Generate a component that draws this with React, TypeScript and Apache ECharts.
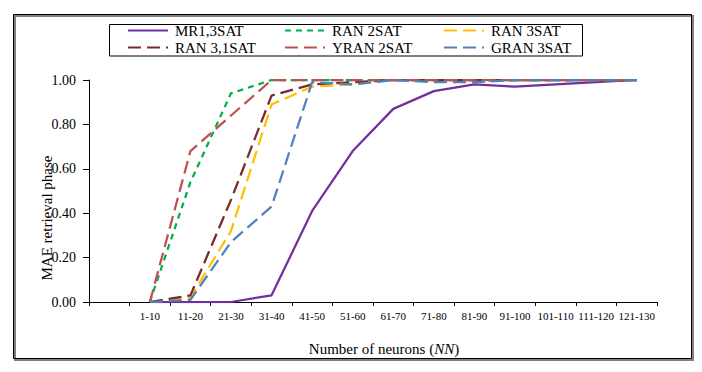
import React, { useEffect, useRef } from "react";
import * as echarts from "echarts";

const categories = ["", "1-10", "11-20", "21-30", "31-40", "41-50", "51-60", "61-70", "71-80", "81-90", "91-100", "101-110", "111-120", "121-130"];
const mr13sat = [null, 0, 0, 0, 0.03, 0.41, 0.68, 0.87, 0.95, 0.98, 0.97, 0.98, 0.99, 1.0];
const ran2sat = [null, 0, 0.54, 0.94, 1, 1, 1, 1, 1, 1, 1, 1, 1, 1];
const ran3sat = [null, 0, 0.02, 0.32, 0.89, 0.97, 0.98, 1, 1, 1, 1, 1, 1, 1];
const ran31sat = [null, 0, 0.03, 0.46, 0.93, 0.98, 0.99, 1, 1, 1, 1, 1, 1, 1];
const yran2sat = [null, 0, 0.68, 0.84, 1, 1, 1, 1, 1, 1, 1, 1, 1, 1];
const gran3sat = [null, 0, 0.01, 0.27, 0.43, 0.99, 0.98, 1, 0.99, 0.99, 1, 1, 1, 1];
const yTicks = [0, 0.2, 0.4, 0.6, 0.8, 1.0];

const FONT = "'Liberation Serif', 'Times New Roman', serif";

const seriesDefs = [
  { name: "MR1,3SAT", data: mr13sat, color: "#7030A0", type: "solid" as any, col: 0, row: 0 },
  { name: "RAN 2SAT", data: ran2sat, color: "#00B050", type: [6, 5], col: 1, row: 0 },
  { name: "RAN 3SAT", data: ran3sat, color: "#FFC000", type: [13, 6], col: 2, row: 0 },
  { name: "RAN 3,1SAT", data: ran31sat, color: "#772C2A", type: [13, 6], col: 0, row: 1 },
  { name: "YRAN 2SAT", data: yran2sat, color: "#C0504D", type: [13, 6], col: 1, row: 1 },
  { name: "GRAN 3SAT", data: gran3sat, color: "#4F81BD", type: [13, 6], col: 2, row: 1 },
];

const colLeft = [127, 284, 443];
const rowTop = [23, 40];

export default function App() {
  const ref = useRef<HTMLDivElement>(null);
  useEffect(() => {
    if (!ref.current) return;
    const chart = echarts.init(ref.current, null, { renderer: "svg" });
    const option: any = {
      animation: false,
      backgroundColor: "#ffffff",
      grid: { left: 89, right: 45, top: 80, bottom: 70, containLabel: false },
      legend: seriesDefs.map((s) => ({
        data: [s.name],
        left: colLeft[s.col],
        top: rowTop[s.row],
        padding: 0,
        itemWidth: 40,
        itemHeight: 15,
        itemGap: 0,
        selectedMode: false,
        itemStyle: { opacity: 0, color: "transparent", borderWidth: 0 },
        textStyle: { fontFamily: FONT, fontSize: 15, color: "#000", lineHeight: 15, padding: [0, 0, 0, 2] },
      })),
      xAxis: {
        type: "category",
        data: categories,
        boundaryGap: true,
        axisLine: { lineStyle: { color: "#000", width: 1 } },
        axisTick: { show: true, interval: 0, length: 4, inside: false, lineStyle: { color: "#000" } },
        axisLabel: { interval: 0, fontFamily: FONT, fontSize: 11, color: "#000", margin: 8 },
        splitLine: { show: false },
      },
      yAxis: {
        type: "value",
        min: 0,
        max: 1,
        interval: 0.2,
        axisLine: { show: true, lineStyle: { color: "#000", width: 1 } },
        axisTick: { show: true, length: 6, lineStyle: { color: "#000" } },
        axisLabel: {
          fontFamily: FONT,
          fontSize: 14,
          color: "#000",
          margin: 13,
          formatter: (v: number) => (yTicks.some((t) => Math.abs(t - v) < 1e-9) ? v.toFixed(2) : ""),
        },
        splitLine: { show: false },
      },
      series: seriesDefs.map((s) => ({
        name: s.name,
        type: "line",
        data: s.data,
        symbol: "none",
        connectNulls: false,
        lineStyle: { color: s.color, width: 2.25, type: s.type },
        itemStyle: { color: s.color },
        z: 3,
      })),
      graphic: [
        { type: "rect", z: 0, shape: { x: 15, y: 16, width: 678, height: 344 }, style: { fill: "none", stroke: "#808080", lineWidth: 2 } },
        { type: "rect", z: 1, shape: { x: 13.5, y: 14.5, width: 678, height: 344 }, style: { fill: "none", stroke: "#000", lineWidth: 1 } },
        { type: "rect", z: 2, shape: { x: 109.5, y: 24.5, width: 473, height: 31.5 }, style: { fill: "none", stroke: "#000", lineWidth: 1 } },
        {
          type: "text",
          z: 2,
          x: 384,
          y: 349,
          style: {
            text: "{a|Number of neurons (}{b|NN}{a|)}",
            align: "center",
            verticalAlign: "middle",
            rich: {
              a: { fontFamily: FONT, fontSize: 15, fill: "#000" },
              b: { fontFamily: FONT, fontSize: 15, fontStyle: "italic", fill: "#000" },
            },
          },
        },
        {
          type: "text",
          z: 2,
          x: 47,
          y: 218,
          rotation: Math.PI / 2,
          style: {
            text: "MAE retrieval phase",
            fontFamily: FONT,
            fontSize: 15,
            fill: "#000",
            align: "center",
            verticalAlign: "middle",
          },
        },
      ],
    };
    chart.setOption(option);
    return () => chart.dispose();
  }, []);
  return <div ref={ref} style={{ position: "absolute", left: 0, top: 0, width: 702, height: 372 }} />;
}
